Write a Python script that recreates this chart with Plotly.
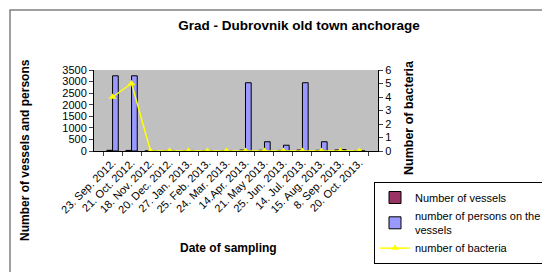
import plotly.graph_objects as go

# sampling dates and values
dates = ["23. Sep. 2012.", "21. Oct. 2012.", "18. Nov. 2012.", "20. Dec. 2012.",
         "27. Jan. 2013.", "25. Feb. 2013.", "24. Mar. 2013.", "14.Apr. 2013.",
         "21. May 2013.", "25. Jun. 2013.", "14. Jul. 2013.", "15. Aug. 2013.",
         "8. Sep. 2013.", "20. Oct. 2013."]
vessels = [30, 25, 0, 0, 0, 0, 0, 40, 30, 25, 40, 30, 45, 0]
persons = [3250, 3250, 0, 0, 0, 0, 0, 2950, 400, 250, 2950, 400, 60, 0]
bacteria = [4, 5, 0, 0, 0, 0, 0, 0, 0, 0, 0, 0, 0, 0]

W, H = 550, 272
L, R, T, B = 86, 180, 62, 129
pw, ph = W - L - R, H - T - B

font = "Arial, Liberation Sans, sans-serif"

fig = go.Figure()
fig.add_trace(go.Bar(x=dates, y=vessels, name="Number of vessels",
                     marker=dict(color="#993366", line=dict(color="black", width=1))))
fig.add_trace(go.Bar(x=dates, y=persons, name="number of persons on the<br>vessels",
                     marker=dict(color="#9999ff", line=dict(color="black", width=1))))
fig.add_trace(go.Scatter(x=dates, y=bacteria, name="number of bacteria", yaxis="y2",
                         mode="lines+markers",
                         line=dict(color="#ffff00", width=1.5),
                         marker=dict(symbol="triangle-up", size=7, color="#ffff00")))

fig.update_layout(
    width=W, height=H,
    margin=dict(l=L, r=R, t=T, b=B, autoexpand=False),
    paper_bgcolor="white", plot_bgcolor="#c0c0c0",
    font=dict(family=font, size=11, color="black"),
    barmode="group", bargap=0.4, bargroupgap=0,
    showlegend=True,
    legend=dict(xref="container", yref="container", x=366 / W, y=1 - 174 / H,
                xanchor="left", yanchor="top", bordercolor="black", borderwidth=1,
                bgcolor="white", font=dict(size=11), tracegroupgap=0,
                itemwidth=30, traceorder="normal"),
    title=dict(text="<b>Grad - Dubrovnik old town anchorage</b>",
               xref="container", yref="container", x=291 / W, y=1 - 17 / H,
               xanchor="center", yanchor="middle", font=dict(size=13.5)),
    xaxis=dict(type="category", tickangle=-45, tickson="boundaries", ticks="outside",
               ticklen=4, showline=True, linecolor="black", showgrid=False,
               tickfont=dict(size=11), automargin=False),
    yaxis=dict(range=[0, 3500], dtick=500, ticks="outside", ticklen=4,
               showline=True, linecolor="black", showgrid=False, zeroline=False,
               tickfont=dict(size=11), automargin=False),
    yaxis2=dict(range=[0, 6], dtick=1, overlaying="y", side="right", ticks="outside",
                ticklen=4, showline=True, linecolor="black", showgrid=False,
                zeroline=False, tickfont=dict(size=11), automargin=False),
)

# axis titles placed like the original
fig.add_annotation(text="<b>Number of vessels and persons</b>", textangle=-90,
                   xref="paper", yref="paper", x=(17 - L) / pw, y=1 - (142 - T) / ph,
                   xanchor="center", yanchor="middle",
                   showarrow=False, font=dict(size=12))
fig.add_annotation(text="<b>Number of bacteria</b>", textangle=-90,
                   xref="paper", yref="paper", x=(401 - L) / pw, y=1 - (110 - T) / ph,
                   xanchor="center", yanchor="middle",
                   showarrow=False, font=dict(size=12.5))
fig.add_annotation(text="<b>Date of sampling</b>",
                   xref="paper", yref="paper", x=(220 - L) / pw, y=1 - (240 - T) / ph,
                   xanchor="center", yanchor="middle",
                   showarrow=False, font=dict(size=12))

# outer frame of the picture
fig.add_shape(type="rect", xref="paper", yref="paper",
              x0=(2 - L) / pw, x1=(W - 3 - L) / pw,
              y0=1 - (H - 4 - T) / ph, y1=1 - (2 - T) / ph,
              line=dict(color="#808080", width=1.5))

fig.write_html("out.html")
